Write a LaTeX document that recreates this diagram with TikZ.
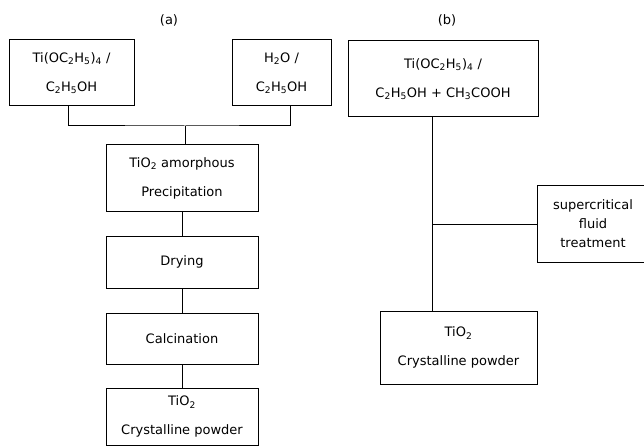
\documentclass[tikz,border=0pt]{standalone}
\usepackage{fontspec}
\setmainfont{DejaVu Sans}
\usepackage{tikz}
\usetikzlibrary{positioning}

\begin{document}
\begin{tikzpicture}[
        x = 1pt,
        y = -1pt,
        line width = 1pt,
        font = \fontsize{13}{29}\selectfont
    ]
    \tikzstyle{procbox} = [draw=black, align=center, inner sep=0pt];
    \useasboundingbox (0,0) rectangle (644,446);
    % route (a)
    \node at (169,20) (la) {(a)};
    \node [procbox, minimum width=125pt, minimum height=66pt] at (71.5,73) (tieth)
        {Ti(OC\textsubscript{2}H\textsubscript{5})\textsubscript{4} /\\C\textsubscript{2}H\textsubscript{5}OH};
    \node [procbox, minimum width=99pt, minimum height=66pt] at (281.5,73) (water)
        {H\textsubscript{2}O /\\C\textsubscript{2}H\textsubscript{5}OH};
    \node [procbox, minimum width=152pt, minimum height=66pt] at (182,178) (prec)
        {TiO\textsubscript{2} amorphous\\Precipitation};
    \node [procbox, minimum width=152pt, minimum height=52pt] at (182,262) (dry) {Drying};
    \node [procbox, minimum width=152pt, minimum height=51pt] at (182,338.5) (calc) {Calcination};
    \node [procbox, minimum width=152pt, minimum height=57pt] at (182,416.5) (powa)
        {TiO\textsubscript{2}\\Crystalline powder};
    \coordinate (ja) at (185,126);
    \draw ([xshift=-3pt]tieth.south) |- (ja) -| ([xshift=9pt]water.south);
    \draw (ja) -- (ja |- prec.north);
    \draw (prec) -- (dry);
    \draw (dry) -- (calc);
    \draw (calc) -- (powa);
    % route (b)
    \node at (447,20) (lb) {(b)};
    \node [procbox, minimum width=190pt, minimum height=76pt] at (443,79) (tiacid)
        {Ti(OC\textsubscript{2}H\textsubscript{5})\textsubscript{4} /\\C\textsubscript{2}H\textsubscript{5}OH + CH\textsubscript{3}COOH};
    \node [procbox, minimum width=157pt, minimum height=73pt] at (458.5,347.5) (powb)
        {TiO\textsubscript{2}\\Crystalline powder};
    \node [procbox, font=\fontsize{13}{19}\selectfont, minimum width=112pt, minimum height=76pt] at (593,224) (scf)
        {supercritical\\fluid\\treatment};
    \coordinate (jb) at (432,224);
    \draw (jb |- tiacid.south) -- (jb |- powb.north);
    \draw (jb) -- (scf.west);
\end{tikzpicture}
\end{document}
